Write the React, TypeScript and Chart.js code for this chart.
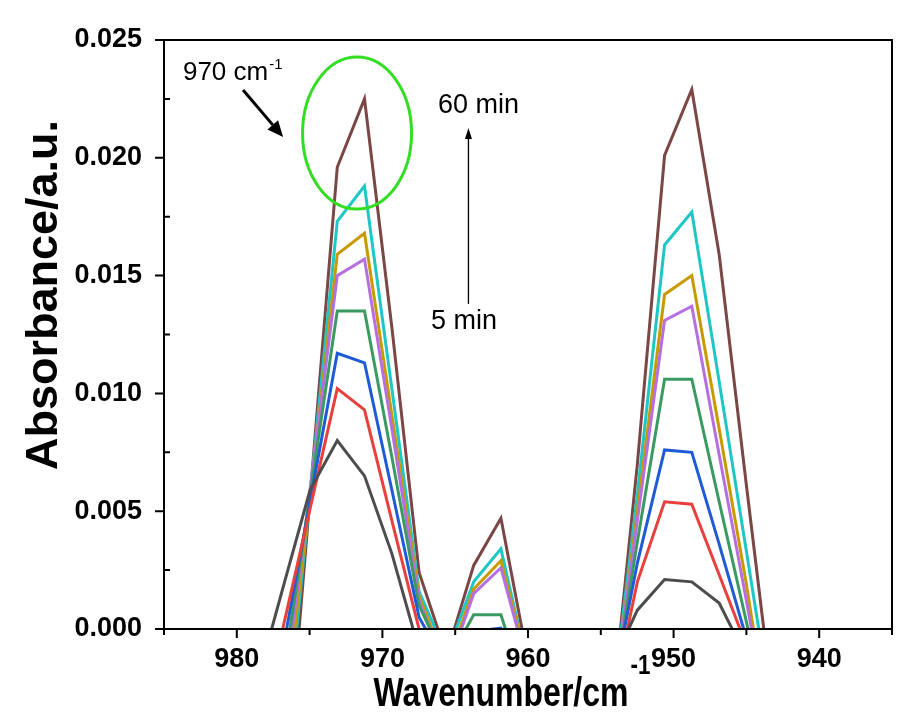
import React, { useEffect, useRef } from 'react';
import { Chart, registerables } from 'chart.js';

Chart.register(...registerables);

// Wavenumber grid (cm-1)
const wavenumbers = [
  984.35, 982.47, 980.6, 978.72, 976.85, 974.97, 973.1, 971.23, 969.35, 967.48,
  965.6, 963.73, 961.86, 959.98, 958.11, 956.24, 954.36, 952.49, 950.62, 948.75,
  946.87, 945.0, 943.12, 941.25, 939.38, 937.5, 935.63,
];

const seriesLabels = ['5 min', '10 min', '15 min', '20 min', '30 min', '40 min', '50 min', '60 min'];

const abs5 = [-0.0052, -0.0047, -0.0041, -0.0025, 0.0017, 0.0059, 0.008, 0.0065, 0.0032, -0.0009,
  -0.0021, -0.0012, -0.001, -0.0024, -0.0033, -0.003, -0.0017, 0.0008, 0.0021, 0.002,
  0.0011, -0.0012, -0.003, -0.0038, -0.0043, -0.0046, -0.0049];
const abs10 = [-0.0075, -0.007, -0.0062, -0.005, 0.0, 0.0051, 0.0102, 0.0093, 0.0046, 0.0,
  -0.002, -0.0006, -0.0005, -0.0028, -0.004, -0.0042, -0.0035, 0.002, 0.0054, 0.0053,
  0.0023, -0.0007, -0.004, -0.0052, -0.0058, -0.0062, -0.0066];
const abs15 = [-0.0088, -0.0082, -0.0073, -0.006, -0.0009, 0.0054, 0.0117, 0.0113, 0.0059, 0.0005,
  -0.0016, -0.0001, 0.00004, -0.003, -0.0044, -0.0046, -0.0031, 0.0028, 0.0076, 0.0075,
  0.0036, -0.0004, -0.0046, -0.006, -0.0066, -0.007, -0.0074];
const abs20 = [-0.01, -0.0094, -0.0085, -0.007, -0.0021, 0.0057, 0.0135, 0.0135, 0.0073, 0.001,
  -0.0015, 0.0006, 0.0006, -0.003, -0.0048, -0.005, -0.0035, 0.0037, 0.0106, 0.0106,
  0.0054, 0.0003, -0.0049, -0.0066, -0.0072, -0.0077, -0.008];
const abs30 = [-0.011, -0.0104, -0.0095, -0.008, -0.0032, 0.0059, 0.015, 0.0157, 0.0085, 0.0012,
  -0.0018, 0.0015, 0.0026, -0.0017, -0.005, -0.0054, -0.0038, 0.0046, 0.0131, 0.0137,
  0.0074, 0.0012, -0.0052, -0.007, -0.0077, -0.0082, -0.0085];
const abs40 = [-0.0118, -0.0112, -0.0103, -0.009, -0.0045, 0.0057, 0.0159, 0.0168, 0.0091, 0.0014,
  -0.0016, 0.0017, 0.0029, -0.0016, -0.0052, -0.0057, -0.0041, 0.005, 0.0142, 0.015,
  0.0085, 0.0019, -0.0055, -0.0073, -0.008, -0.0085, -0.0088];
const abs50 = [-0.0125, -0.012, -0.0112, -0.01, -0.006, 0.0057, 0.0173, 0.0188, 0.0102, 0.0016,
  -0.0011, 0.002, 0.0034, -0.0017, -0.0055, -0.006, -0.004, 0.0057, 0.0163, 0.0177,
  0.0105, 0.0033, -0.004, -0.0075, -0.0083, -0.0088, -0.0092];
const abs60 = [-0.014, -0.0135, -0.0128, -0.0118, -0.0084, 0.0056, 0.0196, 0.0225, 0.0128, 0.0024,
  -0.0011, 0.0027, 0.0047, -0.0014, -0.0058, -0.0064, -0.0043, 0.007, 0.0201, 0.0229,
  0.0159, 0.0061, -0.0035, -0.008, -0.009, -0.0095, -0.01];

const seriesValues = [abs5, abs10, abs15, abs20, abs30, abs40, abs50, abs60];
const seriesColors = ['#4d4d4d', '#e8403c', '#1f5bd6', '#3b9a62', '#b56fe0', '#c99a00', '#1ec6c6', '#7a4646'];

const xMajorTicks = [940, 950, 960, 970, 980];
const xMinorTicks = [935, 945, 955, 965, 975, 985];
const yMajorTicks = [0, 0.005, 0.01, 0.015, 0.02, 0.025];
const yMinorTicks = [0.0025, 0.0075, 0.0125, 0.0175, 0.0225];

const FONT = 'Liberation Sans, Arial, Helvetica, sans-serif';

function drawArrow(ctx: CanvasRenderingContext2D, x1: number, y1: number, x2: number, y2: number,
  lw: number, headLen: number, headW: number) {
  const ang = Math.atan2(y2 - y1, x2 - x1);
  const bx = x2 - headLen * Math.cos(ang);
  const by = y2 - headLen * Math.sin(ang);
  ctx.save();
  ctx.strokeStyle = '#000';
  ctx.fillStyle = '#000';
  ctx.lineWidth = lw;
  ctx.beginPath();
  ctx.moveTo(x1, y1);
  ctx.lineTo(bx, by);
  ctx.stroke();
  ctx.beginPath();
  ctx.moveTo(x2, y2);
  ctx.lineTo(bx + (headW / 2) * Math.sin(ang), by - (headW / 2) * Math.cos(ang));
  ctx.lineTo(bx - (headW / 2) * Math.sin(ang), by + (headW / 2) * Math.cos(ang));
  ctx.closePath();
  ctx.fill();
  ctx.restore();
}

const decorPlugin = {
  id: 'decor',
  afterDraw(chart: any) {
    const { ctx, chartArea: a, scales } = chart;
    const xs = scales.x;
    const ys = scales.y;
    const px = (w: number) => xs.getPixelForValue(w);
    const py = (v: number) => ys.getPixelForValue(v);
    ctx.save();
    // frame
    ctx.strokeStyle = '#000';
    ctx.lineWidth = 2;
    ctx.strokeRect(a.left, a.top, a.right - a.left, a.bottom - a.top);
    // ticks
    ctx.beginPath();
    xMajorTicks.forEach((t) => { const x = px(t); ctx.moveTo(x, a.bottom); ctx.lineTo(x, a.bottom + 9); });
    xMinorTicks.forEach((t) => { const x = px(t); ctx.moveTo(x, a.bottom); ctx.lineTo(x, a.bottom + 6); });
    yMajorTicks.forEach((t) => { const y = py(t); ctx.moveTo(a.left, y); ctx.lineTo(a.left - 9, y); });
    yMinorTicks.forEach((t) => { const y = py(t); ctx.moveTo(a.left, y); ctx.lineTo(a.left + 6, y); });
    ctx.stroke();

    // x title (condensed bold)
    ctx.fillStyle = '#000';
    ctx.textBaseline = 'alphabetic';
    ctx.textAlign = 'left';
    const sx = 0.8;
    ctx.font = `bold 40px ${FONT}`;
    const main = 'Wavenumber/cm';
    const wMain = ctx.measureText(main).width * sx;
    ctx.font = `bold 28px ${FONT}`;
    const sup = '-1';
    const wSup = ctx.measureText(sup).width * sx;
    const cx = (a.left + a.right) / 2 - 16;
    const startX = cx - (wMain + wSup + 2) / 2;
    ctx.save();
    ctx.translate(startX, a.bottom + 77);
    ctx.scale(sx, 1);
    ctx.font = `bold 40px ${FONT}`;
    ctx.fillText(main, 0, 0);
    ctx.restore();
    ctx.save();
    ctx.translate(startX + wMain + 2, a.bottom + 45);
    ctx.scale(sx, 1);
    ctx.font = `bold 28px ${FONT}`;
    ctx.fillText(sup, 0, 0);
    ctx.restore();

    // y title
    ctx.save();
    ctx.translate(57, 295);
    ctx.rotate(-Math.PI / 2);
    ctx.font = `bold 45px ${FONT}`;
    ctx.textAlign = 'center';
    ctx.fillText('Absorbance/a.u.', 0, 0);
    ctx.restore();

    // green ellipse
    ctx.strokeStyle = '#33dd22';
    ctx.lineWidth = 3;
    ctx.beginPath();
    ctx.ellipse(px(971.74), py(0.02105), 54.5, 76, 0, 0, Math.PI * 2);
    ctx.stroke();

    // annotation texts
    ctx.fillStyle = '#000';
    ctx.textAlign = 'left';
    ctx.font = `26px ${FONT}`;
    const t970 = '970 cm';
    ctx.fillText(t970, px(983.7), py(0.0233));
    const w970 = ctx.measureText(t970).width;
    ctx.font = `15px ${FONT}`;
    ctx.fillText('-1', px(983.7) + w970 + 1, py(0.0233) - 11);
    ctx.font = `27px ${FONT}`;
    ctx.fillText('60 min', px(966.18), py(0.0219));
    ctx.fillText('5 min', px(966.66), py(0.01273));

    // arrows
    drawArrow(ctx, px(979.57), py(0.02288), px(976.82), py(0.02088), 3, 16, 14);
    drawArrow(ctx, px(964.09), py(0.0138), px(964.09), py(0.02127), 1.3, 11, 7);
    ctx.restore();
  },
};

export default function App() {
  const ref = useRef<HTMLCanvasElement>(null);
  useEffect(() => {
    const canvas = ref.current;
    if (!canvas) return;
    const tickFont = { family: FONT, size: 27, weight: 'bold' as const };
    const chart = new Chart(canvas, {
      type: 'line',
      data: {
        datasets: seriesValues.map((vals, i) => ({
          label: seriesLabels[i],
          data: wavenumbers.map((w, j) => ({ x: w, y: vals[j] })),
          borderColor: seriesColors[i],
          backgroundColor: seriesColors[i],
          borderWidth: 3,
          pointRadius: 0,
          fill: false,
          tension: 0,
          clip: 0,
        })),
      },
      options: {
        responsive: false,
        animation: false,
        devicePixelRatio: 1,
        layout: { padding: { left: 0, top: 40, right: 14, bottom: 0 } },
        plugins: { legend: { display: false }, tooltip: { enabled: false } },
        scales: {
          x: {
            type: 'linear',
            min: 935,
            max: 985,
            reverse: true,
            grid: { display: false, drawTicks: false },
            border: { display: false },
            afterBuildTicks: (s: any) => { s.ticks = xMajorTicks.map((v) => ({ value: v })); },
            afterFit: (s: any) => { s.height = 96; },
            ticks: {
              padding: 14,
              font: tickFont,
              color: '#000',
              maxRotation: 0,
              autoSkip: false,
              callback: (v: any) => String(v),
            },
          },
          y: {
            type: 'linear',
            min: 0,
            max: 0.025,
            grid: { display: false, drawTicks: false },
            border: { display: false },
            afterBuildTicks: (s: any) => { s.ticks = yMajorTicks.map((v) => ({ value: v })); },
            afterFit: (s: any) => { s.width = 164; },
            ticks: {
              padding: 22,
              font: tickFont,
              color: '#000',
              autoSkip: false,
              callback: (v: any) => Number(v).toFixed(3),
            },
          },
        },
      },
      plugins: [decorPlugin],
    });
    return () => chart.destroy();
  }, []);
  return (
    <div style={{ position: 'fixed', left: 0, top: 0, width: 906, height: 725, background: '#fff' }}>
      <canvas ref={ref} width={906} height={725} style={{ display: 'block' }} />
    </div>
  );
}
